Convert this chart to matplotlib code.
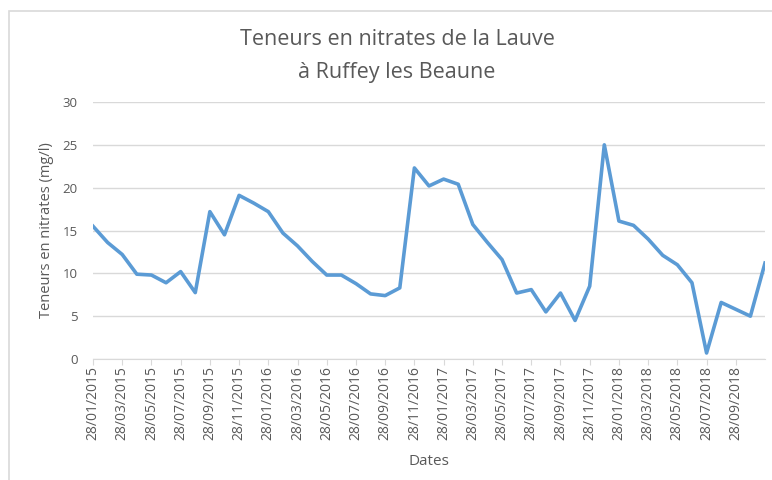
import matplotlib.pyplot as plt
import matplotlib.patches as patches
import pandas as pd

# monthly samples, 28th of each month, Jan 2015 -> Nov 2018
dates = pd.date_range("2015-01-28", periods=47, freq=pd.DateOffset(months=1))
date_labels = [d.strftime("%d/%m/%Y") for d in dates]

nitrates = [15.5, 13.6, 12.2, 9.9, 9.8, 8.9, 10.2, 7.75, 17.2, 14.5, 19.1, 18.2,
            17.2, 14.7, 13.2, 11.4, 9.8, 9.8, 8.8, 7.6, 7.4, 8.3, 22.3, 20.2,
            21.0, 20.4, 15.7, 13.6, 11.6, 7.7, 8.1, 5.5, 7.7, 4.5, 8.5, 25.0,
            16.1, 15.6, 14.0, 12.1, 11.0, 8.9, 0.7, 6.6, 5.8, 5.0, 11.2]

y_ticks = [0, 5, 10, 15, 20, 25, 30]

plt.rcParams['font.family'] = ['Open Sans', 'DejaVu Sans']
txt = '#595959'
grid = '#D9D9D9'

fig = plt.figure(figsize=(7.72, 4.80), dpi=100)
ax = fig.add_axes([93 / 772, 1 - 359 / 480, (765 - 93) / 772, (359 - 102) / 480])

# chart border
fig.patches.append(patches.Rectangle((9 / 772, -0.05), 1.1, 1 - 11 / 480 + 0.05,
                                     transform=fig.transFigure, fill=False,
                                     edgecolor='#D9D9D9', linewidth=1.2))

x = list(range(len(nitrates)))
ax.plot(x, nitrates, color='#5B9BD5', linewidth=2.6, solid_joinstyle='round')

ax.set_xlim(0, len(nitrates) - 1)
ax.set_ylim(0, 30)
ax.set_yticks(y_ticks)
# every other month labelled, last one is 28/09/2018
ax.set_xticks(x[:-1:2])
ax.set_xticklabels(date_labels[:-1:2], rotation=90, fontsize=10, color=txt)
ax.tick_params(axis='y', length=0, pad=11, labelsize=9.5, labelcolor=txt)
ax.tick_params(axis='x', length=4, color=grid, pad=1)

ax.yaxis.grid(True, color=grid, linewidth=1)
ax.set_axisbelow(True)
for s in ['top', 'right', 'left']:
    ax.spines[s].set_visible(False)
ax.spines['bottom'].set_color(grid)

ax.set_ylabel('Teneurs en nitrates (mg/l)', fontsize=10.5, color=txt, labelpad=6)
ax.set_xlabel('Dates', fontsize=11, color=txt, labelpad=10)
fig.text(397 / 772, 1 - 56 / 480, 'Teneurs en nitrates de la Lauve\nà Ruffey les Beaune',
         ha='center', va='center', fontsize=15.5, color=txt, linespacing=1.75)

fig.savefig('out.png', dpi=100)
